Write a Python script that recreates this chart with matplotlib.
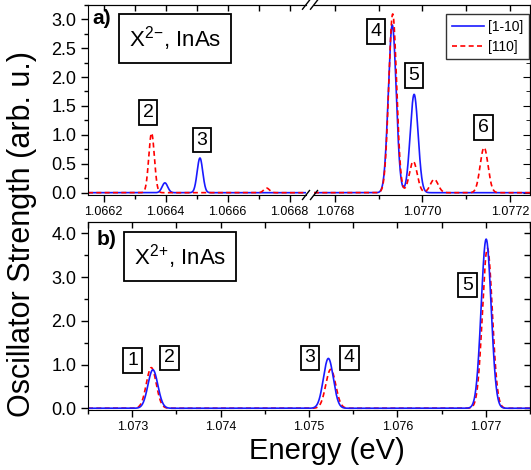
import numpy as np
import matplotlib.pyplot as plt
from matplotlib.lines import Line2D
from matplotlib.ticker import MultipleLocator, FormatStrFormatter

plt.rcParams['font.family'] = ['Liberation Sans', 'DejaVu Sans']
plt.rcParams['mathtext.fontset'] = 'custom'
plt.rcParams['mathtext.rm'] = 'Liberation Sans'
plt.rcParams['mathtext.default'] = 'regular'

# Пікові енергії (eV) та сили осциляторів (arb. u.)
# a) X2-, поляризація [1-10] та [110]
a_e_1m10 = [1.066398, 1.066511, 1.076931, 1.076981]
a_h_1m10 = [0.17, 0.60, 2.90, 1.70]
a_e_110 = [1.066355, 1.066726, 1.076932, 1.076979, 1.077027, 1.077141]
a_h_110 = [1.03, 0.08, 3.09, 0.54, 0.23, 0.78]
# b) X2+
b_e_1m10 = [1.073234, 1.075219, 1.077004]
b_h_1m10 = [0.88, 1.14, 3.87]
b_e_110 = [1.073216, 1.075246, 1.077018]
b_h_110 = [0.93, 0.89, 3.66]

sigma_a = 9e-6   # ширина гаусового уширення
sigma_b = 5.6e-5

BLUE = '#1a1aff'
RED = '#ff0000'


def spectrum(x, energies, heights, sigma):
    y = np.zeros_like(x)
    for e, h in zip(energies, heights):
        y += h * np.exp(-0.5 * ((x - e) / sigma) ** 2)
    return y


W, H = 531, 470
def fx(px):
    return px / W
def fy(py):
    return 1 - py / H


fig = plt.figure(figsize=(W / 100, H / 100), dpi=100)

ax1 = fig.add_axes([fx(88), fy(195), fx(306) - fx(88), fy(4.7) - fy(195)])
ax2 = fig.add_axes([fx(314), fy(195), fx(530) - fx(314), fy(4.7) - fy(195)])
axb = fig.add_axes([fx(88), fy(410), fx(530) - fx(88), fy(222.5) - fy(410)])

# --- панель a), ліва частина ---
x1 = np.linspace(1.06615, 1.066853, 2000)
ax1.plot(x1, spectrum(x1, a_e_1m10, a_h_1m10, sigma_a), color=BLUE, lw=1.2)
ax1.plot(x1, spectrum(x1, a_e_110, a_h_110, sigma_a), color=RED, lw=1.2, ls=(0, (3, 2)))
ax1.set_xlim(1.06615, 1.066853)

# --- панель a), права частина ---
x2 = np.linspace(1.076752, 1.077246, 2000)
ax2.plot(x2, spectrum(x2, a_e_1m10, a_h_1m10, sigma_a), color=BLUE, lw=1.2, label='[1-10]')
ax2.plot(x2, spectrum(x2, a_e_110, a_h_110, sigma_a), color=RED, lw=1.2, ls=(0, (3, 2)), label='[110]')
ax2.set_xlim(1.076752, 1.077246)

for ax in (ax1, ax2):
    ax.set_ylim(-0.04, 3.25)
    ax.xaxis.set_major_locator(MultipleLocator(0.0002))
    ax.xaxis.set_minor_locator(MultipleLocator(0.0001))
    ax.xaxis.set_major_formatter(FormatStrFormatter('%.4f'))
    ax.yaxis.set_major_locator(MultipleLocator(0.5))
    ax.yaxis.set_minor_locator(MultipleLocator(0.25))
    ax.yaxis.set_major_formatter(FormatStrFormatter('%.1f'))
    ax.tick_params(axis='x', which='both', direction='out', labelsize=9, pad=3)
    ax.tick_params(which='major', length=5, width=1)
    ax.tick_params(which='minor', length=3, width=1)
    sec = ax.secondary_xaxis('top')
    sec.xaxis.set_major_locator(MultipleLocator(0.0001))
    sec.tick_params(direction='in', length=4, width=1, labeltop=False)

ax1.spines['right'].set_visible(False)
ax1.tick_params(axis='y', which='both', direction='out', labelsize=13)
ax2.spines['left'].set_visible(False)
ax2.tick_params(axis='y', which='both', left=False, labelleft=False)
sec = ax2.secondary_yaxis('right')
sec.yaxis.set_major_locator(MultipleLocator(0.5))
sec.yaxis.set_minor_locator(MultipleLocator(0.25))
sec.tick_params(which='both', direction='in', labelright=False)
sec.tick_params(which='major', length=5)
sec.tick_params(which='minor', length=3)

ax2.legend(loc='upper right', bbox_to_anchor=(1.0, 0.956), borderaxespad=0.1,
           fontsize=10, fancybox=False, edgecolor='#333333', framealpha=1,
           handlelength=2.3, handletextpad=0.3, borderpad=0.4, labelspacing=0.4)

# знаки розриву осі
for yy in (4.7, 195):
    for xx in (306, 314):
        fig.add_artist(Line2D([fx(xx - 3.5), fx(xx + 3.5)], [fy(yy + 4.5), fy(yy - 4.5)],
                              color='black', lw=1, transform=fig.transFigure))

box = dict(boxstyle='square,pad=0.2', fc='white', ec='black', lw=1.3)
big_box = dict(boxstyle='square,pad=0.45', fc='white', ec='black', lw=1.3)
ax1.text(0.02, 0.925, 'a)', transform=ax1.transAxes, fontsize=15, fontweight='bold',
         ha='left', va='center')
ax1.text(0.40, 0.822, r'X$^{2}$$^{-}$, InAs', transform=ax1.transAxes,
         fontsize=16, ha='center', va='center', bbox=big_box)
ax1.text(1.066344, 1.38, '2', fontsize=14, ha='center', va='center', bbox=box)
ax1.text(1.066518, 0.91, '3', fontsize=14, ha='center', va='center', bbox=box)
ax2.text(1.076894, 2.78, '4', fontsize=14, ha='center', va='center', bbox=box)
ax2.text(1.076981, 2.03, '5', fontsize=14, ha='center', va='center', bbox=box)
ax2.text(1.077139, 1.13, '6', fontsize=14, ha='center', va='center', bbox=box)

# --- панель b) ---
xb = np.linspace(1.0725, 1.0775, 3000)
axb.plot(xb, spectrum(xb, b_e_110, b_h_110, sigma_b), color=RED, lw=1.2, ls=(0, (3, 2)))
axb.plot(xb, spectrum(xb, b_e_1m10, b_h_1m10, sigma_b), color=BLUE, lw=1.2)
axb.set_xlim(1.0725, 1.0775)
axb.set_ylim(-0.04, 4.25)
axb.xaxis.set_major_locator(MultipleLocator(0.001))
axb.xaxis.set_minor_locator(MultipleLocator(0.0005))
axb.xaxis.set_major_formatter(FormatStrFormatter('%.3f'))
axb.yaxis.set_major_locator(MultipleLocator(1.0))
axb.yaxis.set_minor_locator(MultipleLocator(0.5))
axb.yaxis.set_major_formatter(FormatStrFormatter('%.1f'))
axb.tick_params(axis='x', which='both', direction='out', labelsize=9, pad=3)
axb.tick_params(axis='y', which='both', direction='out', labelsize=13)
axb.tick_params(which='major', length=5, width=1)
axb.tick_params(which='minor', length=3, width=1)
sec = axb.secondary_xaxis('top')
sec.xaxis.set_major_locator(MultipleLocator(0.0005))
sec.tick_params(direction='in', length=4, width=1, labeltop=False)
sec = axb.secondary_yaxis('right')
sec.yaxis.set_major_locator(MultipleLocator(0.5))
sec.tick_params(direction='in', length=4, width=1, labelright=False)

axb.text(0.02, 0.907, 'b)', transform=axb.transAxes, fontsize=15, fontweight='bold',
         ha='left', va='center')
axb.text(0.208, 0.819, r'X$^{2}$$^{+}$, InAs', transform=axb.transAxes,
         fontsize=16, ha='center', va='center', bbox=big_box)
axb.text(1.073003, 1.10, '1', fontsize=14, ha='center', va='center', bbox=box)
axb.text(1.073423, 1.15, '2', fontsize=14, ha='center', va='center', bbox=box)
axb.text(1.075012, 1.15, '3', fontsize=14, ha='center', va='center', bbox=box)
axb.text(1.075455, 1.15, '4', fontsize=14, ha='center', va='center', bbox=box)
axb.text(1.076795, 2.82, '5', fontsize=14, ha='center', va='center', bbox=box)

fig.text(fx(22), fy(234), 'Oscillator Strength (arb. u.)', rotation=90,
         fontsize=22, ha='center', va='center')
fig.text(fx(327), fy(451), 'Energy (eV)', fontsize=21, ha='center', va='center')

fig.savefig('out.png', dpi=100)
